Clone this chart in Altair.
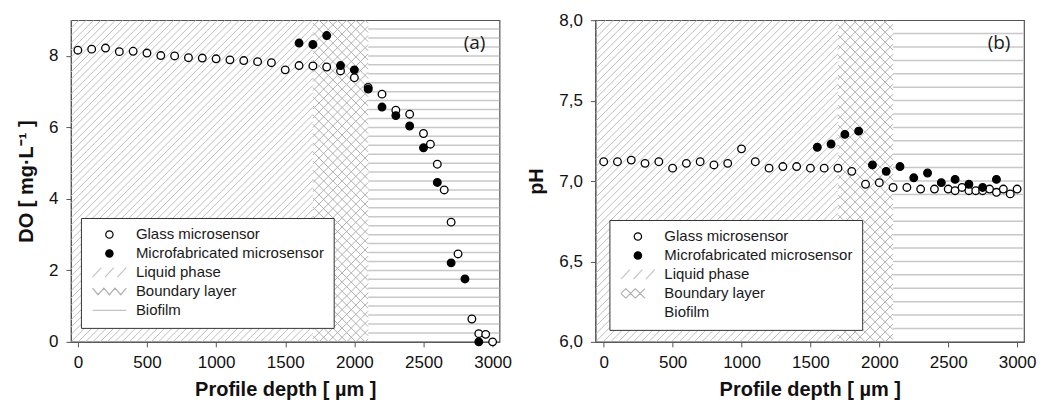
import altair as alt
import pandas as pd
import numpy as np

# ---------------- data ----------------
depth_a_glass = [0, 100, 200, 300, 400, 500, 600, 700, 800, 900, 1000, 1100, 1200, 1300, 1400,
                 1500, 1600, 1700, 1800, 1900, 2000, 2100, 2200, 2300, 2400, 2500, 2550, 2600,
                 2650, 2700, 2750, 2850, 2900, 2950, 3000]
do_glass = [8.16, 8.19, 8.22, 8.12, 8.13, 8.08, 8.01, 8.00, 7.95, 7.94, 7.92, 7.89, 7.87, 7.84, 7.81,
            7.61, 7.73, 7.72, 7.69, 7.58, 7.39, 7.12, 6.93, 6.48, 6.37, 5.83, 5.53, 4.97,
            4.25, 3.35, 2.46, 0.64, 0.23, 0.21, 0.00]

depth_a_micro = [1600, 1700, 1800, 1900, 2000, 2100, 2200, 2300, 2400, 2500, 2600, 2700, 2800, 2900]
do_micro = [8.36, 8.32, 8.57, 7.73, 7.61, 7.07, 6.57, 6.33, 6.04, 5.43, 4.46, 2.21, 1.76, 0.00]

depth_b_glass = [0, 100, 200, 300, 400, 500, 600, 700, 800, 900, 1000, 1100, 1200, 1300, 1400,
                 1500, 1600, 1700, 1800, 1900, 2000, 2100, 2200, 2300, 2400, 2500, 2550, 2600,
                 2650, 2700, 2750, 2800, 2850, 2900, 2950, 3000]
ph_glass = [7.12, 7.12, 7.13, 7.11, 7.12, 7.08, 7.11, 7.12, 7.10, 7.11, 7.20, 7.12, 7.08, 7.09, 7.09,
            7.08, 7.08, 7.08, 7.06, 6.98, 6.99, 6.96, 6.96, 6.95, 6.95, 6.95, 6.94, 6.96,
            6.94, 6.94, 6.94, 6.95, 6.93, 6.95, 6.92, 6.95]

depth_b_micro = [1550, 1650, 1750, 1850, 1950, 2050, 2150, 2250, 2350, 2450, 2550, 2650, 2750, 2850]
ph_micro = [7.21, 7.23, 7.29, 7.31, 7.10, 7.06, 7.09, 7.02, 7.05, 6.99, 7.01, 6.98, 6.96, 7.01]

legend_names = ["Glass microsensor", "Microfabricated microsensor", "Liquid phase",
                "Boundary layer", "Biofilm"]
x_ticks = [0, 500, 1000, 1500, 2000, 2500, 3000]
do_ticks = [0, 2, 4, 6, 8]
ph_ticks = [6.0, 6.5, 7.0, 7.5, 8.0]

zone_edges = [1700, 2100]   # liquid | boundary | biofilm

# ---------------- layout / style ----------------
W, H = 429, 322
FONT = "Liberation Sans"
xdom_a, ydom_a = [-50, 3050], [0, 9]
xdom_b, ydom_b = [-60, 3050], [6, 8]


def hatch(x0, x1, y0, y1, xdom, ydom, step, kind):
    sx = W / (xdom[1] - xdom[0])
    sy = H / (ydom[1] - ydom[0])
    u0, u1 = (x0 - xdom[0]) * sx, (x1 - xdom[0]) * sx
    v0, v1 = (y0 - ydom[0]) * sy, (y1 - ydom[0]) * sy
    segs = []
    if kind == "h":
        v = v0 + step
        while v < v1 - 0.5:
            segs.append((u0, v, u1, v))
            v += step
    elif kind == "/":
        c = np.floor((u0 - v1) / step) * step
        while c < u1 - v0:
            va, vb = max(v0, u0 - c), min(v1, u1 - c)
            if vb > va:
                segs.append((va + c, va, vb + c, vb))
            c += step
    else:
        c = np.floor((u0 + v0) / step) * step
        while c < u1 + v1:
            va, vb = max(v0, c - u1), min(v1, c - u0)
            if vb > va:
                segs.append((c - va, va, c - vb, vb))
            c += step
    return pd.DataFrame([{"x": a / sx + xdom[0], "y": b / sy + ydom[0],
                          "x2": c2 / sx + xdom[0], "y2": d / sy + ydom[0]}
                         for a, b, c2, d in segs])


def panel(xdom, ydom, glass_x, glass_y, micro_x, micro_y, ytitle, yticks, ylab_expr,
          hstep, dstep, cstep, tag, legx, legy, shapes, strokes):
    xs = alt.Scale(domain=xdom, nice=False, zero=False)
    ys = alt.Scale(domain=ydom, nice=False, zero=False)
    xax = alt.Axis(values=x_ticks, title="Profile depth [ µm ]", format="d")
    yax = alt.Axis(values=yticks, title=ytitle, labelExpr=ylab_expr)

    def rules(df, color, width):
        return alt.Chart(df).mark_rule(color=color, strokeWidth=width, clip=True).encode(
            x=alt.X("x:Q", scale=xs, axis=xax), x2="x2:Q",
            y=alt.Y("y:Q", scale=ys, axis=yax), y2="y2:Q")

    liq = hatch(xdom[0], zone_edges[0], ydom[0], ydom[1], xdom, ydom, dstep, "/")
    bl1 = hatch(zone_edges[0], zone_edges[1], ydom[0], ydom[1], xdom, ydom, cstep, "/")
    bl2 = hatch(zone_edges[0], zone_edges[1], ydom[0], ydom[1], xdom, ydom, cstep, "\\")
    bio = hatch(zone_edges[1], xdom[1], ydom[0], ydom[1], xdom, ydom, hstep, "h")

    pts = pd.concat([
        pd.DataFrame({"depth": glass_x, "val": glass_y, "series": legend_names[0]}),
        pd.DataFrame({"depth": micro_x, "val": micro_y, "series": legend_names[1]}),
    ])
    leg = alt.Legend(title=None, orient="none", legendX=legx, legendY=legy,
                     labelFont=FONT, labelFontSize=15, labelColor="#1a1a1a",
                     padding=9, rowPadding=3, symbolOffset=12, labelOffset=19,
                     strokeColor="#333333", fillColor="white", cornerRadius=0,
                     symbolSize=54, symbolStrokeWidth=1.2, labelLimit=400)
    points = alt.Chart(pts).mark_point(size=58, strokeWidth=1.3, opacity=1).encode(
        x=alt.X("depth:Q", scale=xs, axis=xax),
        y=alt.Y("val:Q", scale=ys, axis=yax),
        shape=alt.Shape("series:N", scale=alt.Scale(domain=legend_names, range=shapes), legend=leg),
        fill=alt.Fill("series:N", scale=alt.Scale(domain=legend_names,
                      range=["white", "black", "transparent", "transparent", "transparent"]), legend=leg),
        stroke=alt.Stroke("series:N", scale=alt.Scale(domain=legend_names, range=strokes), legend=leg),
        order=alt.Order("series:N"),
    )
    label = alt.Chart(pd.DataFrame({"t": [tag]})).mark_text(
        font="Open Sans", fontSize=19, color="#1a1a1a").encode(
        text="t:N", x=alt.value(W - 25), y=alt.value(23))
    return alt.layer(
        rules(liq, "#bdbdbd", 1), rules(bl1, "#b0b0b0", 1), rules(bl2, "#b0b0b0", 1),
        rules(bio, "#c8c8c8", 1.5), points, label
    ).resolve_scale(shape="independent", fill="independent", stroke="independent"
    ).properties(width=W, height=H)


shapes_a = ["circle", "circle",
            "M-4.6,1.3L-2.2,-1.3M-1.2,1.3L1.2,-1.3M2.2,1.3L4.6,-1.3",
            "M-4.6,-0.9L-3.1,0.9L-1.5,-0.9L0,0.9L1.5,-0.9L3.1,0.9L4.6,-0.9",
            "M-4.6,0L4.6,0"]
shapes_b = ["circle", "circle",
            "M-4.6,1.3L-2.2,-1.3M-1.2,1.3L1.2,-1.3M2.2,1.3L4.6,-1.3",
            "M-4.6,0L-3.3,-1.3M-4.6,0L-3.3,1.3M-3.3,-1.3L-0.7,1.3M-3.3,1.3L-0.7,-1.3"
            "M-0.7,-1.3L1.9,1.3M-0.7,1.3L1.9,-1.3",
            "M-4.6,0L4.6,0"]
strokes_a = ["black", "black", "#c4c4c4", "#b0b0b0", "#c4c4c4"]
strokes_b = ["black", "black", "#c4c4c4", "#b0b0b0", "transparent"]

pa = panel(xdom_a, ydom_a, depth_a_glass, do_glass, depth_a_micro, do_micro,
           "DO [ mg·L⁻¹ ]", do_ticks, "datum.label",
           H / 36, 7.3, 9.2, "(a)", 10, 198, shapes_a, strokes_a)
pb = panel(xdom_b, ydom_b, depth_b_glass, ph_glass, depth_b_micro, ph_micro,
           "pH", ph_ticks, "replace(format(datum.value, '.1f'), '.', ',')",
           H / 24, 7.6, 10, "(b)", 14, 200, shapes_b, strokes_b)

chart = alt.hconcat(pa, pb, spacing=13).resolve_scale(
    shape="independent", fill="independent", stroke="independent", x="independent", y="independent"
).resolve_legend(shape="independent", fill="independent", stroke="independent").configure(
    padding={"left": 7, "top": 2, "right": 0, "bottom": 0}
).configure_view(stroke="#555555", strokeWidth=1.2).configure_axis(
    grid=False, labelFont=FONT, labelFontSize=17, labelColor="#111111",
    titleFont=FONT, titleFontSize=20, titleFontWeight="bold", titleColor="#111111",
    tickSize=5, tickColor="#555555", domainColor="#555555"
).configure_axisX(titlePadding=9, labelPadding=8).configure_axisY(titlePadding=12, labelPadding=8)

chart.save("out.html", embed_options={"renderer": "svg", "actions": False})
